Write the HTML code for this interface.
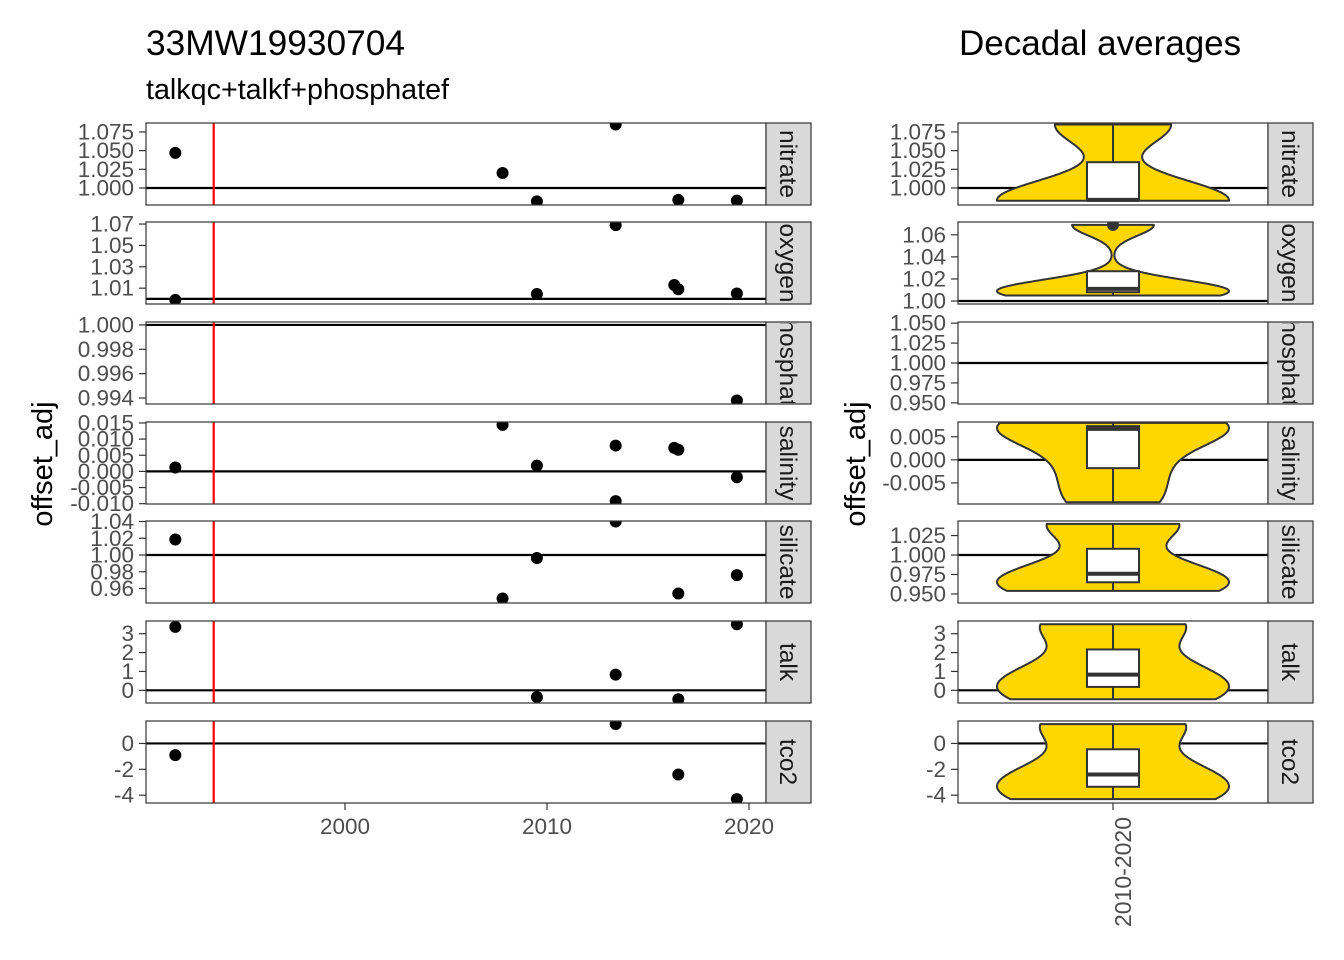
<!DOCTYPE html>
<html><head><meta charset="utf-8"><style>
body{margin:0;background:#fff;}
svg{display:block;font-family:"Liberation Sans",sans-serif;}
</style></head><body>
<svg id="c" width="1344" height="960" viewBox="0 0 1344 960">
<text x="146" y="55" font-size="35.3" fill="#000">33MW19930704</text>
<text x="146" y="99" font-size="28.7" fill="#000">talkqc+talkf+phosphatef</text>
<text x="959" y="55" font-size="35" fill="#000">Decadal averages</text>
<text transform="translate(52,464) rotate(-90)" text-anchor="middle" font-size="29" fill="#000">offset_adj</text>
<text transform="translate(865,464) rotate(-90)" text-anchor="middle" font-size="29" fill="#000">offset_adj</text>
</svg>
<script>
const params = ["nitrate","oxygen","phosphate","salinity","silicate","talk","tco2"];
const stripLabels = ["nitrate","oxygen","phosphate","salinity","silicate","talk","tco2"];
const years = {
 nitrate:[1991.6,2007.8,2009.5,2013.4,2016.5,2019.4],
 oxygen:[1991.6,2009.5,2013.4,2016.3,2016.5,2019.4],
 phosphate:[2019.4],
 salinity:[1991.6,2007.8,2009.5,2013.4,2013.4,2016.3,2016.5,2019.4],
 silicate:[1991.6,2007.8,2009.5,2013.4,2016.5,2019.4],
 talk:[1991.6,2009.5,2013.4,2016.5,2019.4],
 tco2:[1991.6,2013.4,2016.5,2019.4]
};
const offsets = {
 nitrate:[1.047,1.020,0.982,1.085,0.984,0.983],
 oxygen:[0.999,1.0046,1.069,1.013,1.009,1.005],
 phosphate:[0.9938],
 salinity:[0.0012,0.0144,0.0018,0.0080,-0.0092,0.0073,0.0067,-0.0018],
 silicate:[1.0185,0.948,0.9964,1.040,0.954,0.976],
 talk:[3.36,-0.36,0.83,-0.47,3.5],
 tco2:[-0.9,1.5,-2.4,-4.3]
};
const refValues = [1,1,1,0,1,0,0];
const leftTicks = [
 ["1.000","1.025","1.050","1.075"],["1.01","1.03","1.05","1.07"],["0.994","0.996","0.998","1.000"],
 ["-0.010","-0.005","0.000","0.005","0.010","0.015"],["0.96","0.98","1.00","1.02","1.04"],
 ["0","1","2","3"],["-4","-2","0"]];
const rightTicks = [
 ["1.000","1.025","1.050","1.075"],["1.00","1.02","1.04","1.06"],["0.950","0.975","1.000","1.025","1.050"],
 ["-0.005","0.000","0.005"],["0.950","0.975","1.000","1.025"],["0","1","2","3"],["-4","-2","0"]];
const leftDomains = [[0.9772,1.0870],[0.9952,1.0719],[0.99351,1.00024],[-0.0101,0.0153],[0.9427,1.0406],[-0.672,3.673],[-4.604,1.736]];
const rightDomains = [[0.9772,1.0870],[0.9973,1.0716],[0.9485,1.0515],[-0.00957,0.0082],[0.9384,1.0437],[-0.672,3.673],[-4.604,1.736]];
const xTicks = [2000,2010,2020];
const cruiseYear = 1993.5;
const decadeStart = 2010, decadeEnd = 2020;

const NS="http://www.w3.org/2000/svg";
const svg=document.getElementById('c');
function mk(t,a,p){const e=document.createElementNS(NS,t);for(const k in a)e.setAttribute(k,a[k]);(p||svg).appendChild(e);return e;}
const panelTops=[123,222,322,422,521,621,721], panelH=82;
const LX0=146,LX1=766,RX0=958,RX1=1268;
const xs=y=>345+(y-2000)*20.2;
function ysc(d,top){return v=>top+ (d[1]-v)/(d[1]-d[0])*panelH;}
function q7(s,p){const h=(s.length-1)*p,l=Math.floor(h);return s[l]+(h-l)*((s[Math.min(l+1,s.length-1)])-s[l]);}
function strip(g,x,top,i,name){
 const sr=mk('rect',{x:x,y:top,width:45,height:panelH,fill:'#d9d9d9',stroke:'#333','stroke-width':1.2},g);
 
 
 const id='clip'+name; const sc=mk('clipPath',{id:id},g); mk('rect',{x:x,y:top+1,width:45,height:panelH-2},sc);
 const wrap=mk('g',{'clip-path':'url(#'+id+')'},g);
 const st=mk('text',{transform:`translate(${x+14},${top+panelH/2}) rotate(90)`,'text-anchor':'middle','font-size':24.5,fill:'#1a1a1a'},wrap);
 st.textContent=stripLabels[i];
}
function yticks(g,x0,ticks,ys,name){
 ticks.forEach(t=>{const y=ys(parseFloat(t));
  mk('line',{x1:x0-7,x2:x0,y1:y,y2:y,stroke:'#333','stroke-width':1.2},g);
  const tx=mk('text',{x:x0-12,y:y+7.5,'text-anchor':'end','font-size':22.5,fill:'#4d4d4d'},g);tx.textContent=t;
  
  
 });
}

params.forEach((p,i)=>{
 const top=panelTops[i];
 const g=mk('g',{});
 
 
 const ys=ysc(leftDomains[i],top);
 mk('rect',{x:LX0,y:top,width:LX1-LX0,height:panelH,fill:'#fff'},g);
 const cp='clipL'+i; const clip=mk('clipPath',{id:cp},g); mk('rect',{x:LX0,y:top,width:LX1-LX0,height:panelH},clip);
 const inner=mk('g',{'clip-path':'url(#'+cp+')'},g);
 const ry=ys(refValues[i]);
 const hl=mk('line',{x1:LX0,x2:LX1,y1:ry,y2:ry,stroke:'#000','stroke-width':2.2},inner);
 
 
 const rl=mk('line',{x1:xs(cruiseYear),x2:xs(cruiseYear),y1:top,y2:top+panelH,stroke:'#f00','stroke-width':2.2},inner);
 
 
 years[p].forEach((yr,k)=>{
  const c=mk('circle',{cx:xs(yr),cy:ys(offsets[p][k]),r:6,fill:'#000'},inner);
  
  
 });
 mk('rect',{x:LX0,y:top,width:LX1-LX0,height:panelH,fill:'none',stroke:'#333','stroke-width':1.2},g);
 yticks(g,LX0,leftTicks[i],ys,'y-tick-label');
 strip(g,LX1,top,i,'strip-'+p);

 const g2=mk('g',{});
 
 
 const yr2=ysc(rightDomains[i],top);
 mk('rect',{x:RX0,y:top,width:RX1-RX0,height:panelH,fill:'#fff'},g2);
 const cp2='clipR'+i; const clip2=mk('clipPath',{id:cp2},g2); mk('rect',{x:RX0,y:top,width:RX1-RX0,height:panelH},clip2);
 const in2=mk('g',{'clip-path':'url(#'+cp2+')'},g2);
 const ry2=yr2(refValues[i]);
 mk('line',{x1:RX0,x2:RX1,y1:ry2,y2:ry2,stroke:'#000','stroke-width':2.2},in2);
 const vals=offsets[p].filter((v,k)=>years[p][k]>=decadeStart&&years[p][k]<=decadeEnd);
 const cx=1113;
 if(vals.length>1){
  const s=[...vals].sort((a,b)=>a-b), n=s.length;
  const mean=s.reduce((a,b)=>a+b,0)/n;
  const sd=Math.sqrt(s.reduce((a,b)=>a+(b-mean)**2,0)/(n-1));
  let lo=Math.min(sd,(q7(s,.75)-q7(s,.25))/1.34); if(!lo) lo=sd||Math.abs(s[0])||1;
  const bw=0.9*lo*Math.pow(n,-0.2);
  const N=200, pts=[]; let mx=0;
  for(let j=0;j<N;j++){const v=s[0]+(s[n-1]-s[0])*j/(N-1);let d=0;s.forEach(x=>d+=Math.exp(-0.5*((v-x)/bw)**2));pts.push([v,d]);mx=Math.max(mx,d);}
  let dpath='';
  pts.forEach(([v,d],j)=>{dpath+=(j?'L':'M')+(cx+d/mx*116).toFixed(1)+','+yr2(v).toFixed(1);});
  for(let j=N-1;j>=0;j--){const [v,d]=pts[j];dpath+='L'+(cx-d/mx*116).toFixed(1)+','+yr2(v).toFixed(1);}
  const vp=mk('path',{d:dpath+'Z',fill:'#ffd700',stroke:'#333','stroke-width':2,'stroke-linejoin':'round'},in2);
  
  
  const q1=q7(s,.25),md=q7(s,.5),q3=q7(s,.75),iqr=q3-q1;
  const inl=s.filter(v=>v>=q1-1.5*iqr&&v<=q3+1.5*iqr);
  mk('line',{x1:cx,x2:cx,y1:yr2(inl[inl.length-1]),y2:yr2(q3),stroke:'#333','stroke-width':2},in2);
  mk('line',{x1:cx,x2:cx,y1:yr2(q1),y2:yr2(inl[0]),stroke:'#333','stroke-width':2},in2);
  const bx=mk('rect',{x:cx-26,y:yr2(q3),width:52,height:Math.max(0,yr2(q1)-yr2(q3)),fill:'#fff',stroke:'#333','stroke-width':2},in2);
  
  
  mk('line',{x1:cx-26,x2:cx+26,y1:yr2(md),y2:yr2(md),stroke:'#333','stroke-width':4},in2);
  s.filter(v=>v<q1-1.5*iqr||v>q3+1.5*iqr).forEach(v=>{
   const o=mk('circle',{cx:cx,cy:yr2(v),r:6,fill:'#333'},in2);
   
   
  });
 }
 mk('rect',{x:RX0,y:top,width:RX1-RX0,height:panelH,fill:'none',stroke:'#333','stroke-width':1.2},g2);
 yticks(g2,RX0,rightTicks[i],yr2,'right-y-tick-label');
 strip(g2,RX1,top,i,'right-strip-'+p);
});
const bottom=panelTops[6]+panelH;
xTicks.forEach(t=>{
 mk('line',{x1:xs(t),x2:xs(t),y1:bottom,y2:bottom+7,stroke:'#333','stroke-width':1.2});
 const tx=mk('text',{x:xs(t),y:bottom+31,'text-anchor':'middle','font-size':22.5,fill:'#4d4d4d'});tx.textContent=t;
 
 
});
mk('line',{x1:1113,x2:1113,y1:bottom,y2:bottom+7,stroke:'#333','stroke-width':1.2});
const dl=mk('text',{transform:`translate(1131,${bottom+14}) rotate(-90)`,'text-anchor':'end','font-size':23,fill:'#4d4d4d'});
dl.textContent='2010-2020';


</script>
</body></html>
